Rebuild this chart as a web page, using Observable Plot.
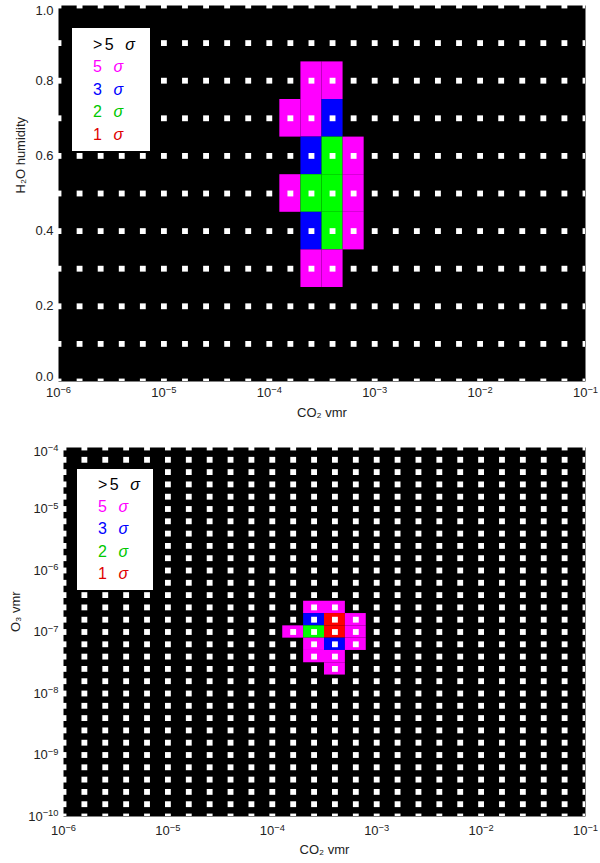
<!DOCTYPE html>
<html>
<head>
<meta charset="utf-8">
<script src="https://cdn.jsdelivr.net/npm/d3@7"></script>
<script src="https://cdn.jsdelivr.net/npm/@observablehq/plot@0.6"></script>
<style>
  html, body { margin: 0; padding: 0; background: white; }
  #wrap { position: relative; width: 600px; height: 863px; overflow: hidden; }
  #wrap svg { display: block; }
  .legend { position: absolute; background: white; font-family: "Liberation Sans", Arial, sans-serif; font-size: 16px; box-sizing: border-box; }
  .legend div { white-space: nowrap; }
  .legend .num { letter-spacing: 2.5px; }
  .legend .sig { margin-left: 9px; font-style: italic; }
</style>
</head>
<body>
<div id="wrap"></div>
<script>
// ---- axis ticks ----
const xTickExps = [-6, -5, -4, -3, -2, -1];
const topYTicks = [0.0, 0.2, 0.4, 0.6, 0.8, 1.0];
const botYTickExps = [-10, -9, -8, -7, -6, -5, -4];

// ---- model grid (log10 CO2 vmr, H2O humidity, log10 O3 vmr) ----
const gridCO2Exp = [-6.0, -5.8, -5.6, -5.4, -5.2, -5.0, -4.8, -4.6, -4.4, -4.2, -4.0, -3.8, -3.6, -3.4, -3.2, -3.0, -2.8, -2.6, -2.4, -2.2, -2.0, -1.8, -1.6, -1.4, -1.2, -1.0];
const gridH2O = [0.0, 0.1, 0.2, 0.3, 0.4, 0.5, 0.6, 0.7, 0.8, 0.9, 1.0];
const gridO3Exp = [-10.0, -9.8, -9.6, -9.4, -9.2, -9.0, -8.8, -8.6, -8.4, -8.2, -8.0, -7.8, -7.6, -7.4, -7.2, -7.0, -6.8, -6.6, -6.4, -6.2, -6.0, -5.8, -5.6, -5.4, -5.2, -5.0, -4.8, -4.6, -4.4, -4.2, -4.0];

// ---- top panel: sigma levels of cells (CO2 vs H2O) ----
const topCO2Exp = [-3.6, -3.4, -3.8, -3.6, -3.4, -3.6, -3.4, -3.2, -3.8, -3.6, -3.4, -3.2, -3.6, -3.4, -3.2, -3.6, -3.4];
const topH2O    = [ 0.8,  0.8,  0.7,  0.7,  0.7,  0.6,  0.6,  0.6,  0.5,  0.5,  0.5,  0.5,  0.4,  0.4,  0.4,  0.3,  0.3];
const topSigma  = ["5",  "5",  "5",  "5",  "3",  "3",  "2",  "5",  "5",  "2",  "2",  "5",  "3",  "2",  "5",  "5",  "5"];

// ---- bottom panel: sigma levels of cells (CO2 vs O3) ----
const botCO2Exp = [-3.6, -3.4, -3.6, -3.4, -3.2, -3.8, -3.6, -3.4, -3.2, -3.6, -3.4, -3.2, -3.6, -3.4, -3.4];
const botO3Exp  = [-6.6, -6.6, -6.8, -6.8, -6.8, -7.0, -7.0, -7.0, -7.0, -7.2, -7.2, -7.2, -7.4, -7.4, -7.6];
const botSigma  = ["5",  "5",  "3",  "1",  "5",  "5",  "2",  "1",  "5",  "5",  "3",  "5",  "5",  "5",  "5"];

// ---- legend ----
const legendLabels = [">5", "5", "3", "2", "1"];
const sigmaDomain = ["1", "2", "3", "5"];
const sigmaColors = ["#ff0000", "#00ff00", "#0000ff", "#ff00ff"];
const legendColors = ["#000000", "#ff00ff", "#0000ff", "#00c800", "#e00000"];

const powLabel = v => "10^" + Math.round(Math.log10(v));

const baseStyle = {fontFamily: "'Liberation Sans', Arial, sans-serif", fontSize: "13px", color: "#222", background: "white", overflow: "visible"};
const half = 0.1; // half grid step in decades

const topCells = topCO2Exp.map((e, i) => ({x1: 10 ** (e - half), x2: 10 ** (e + half), y1: topH2O[i] - 0.05, y2: topH2O[i] + 0.05, sigma: topSigma[i]}));
const botCells = botCO2Exp.map((e, i) => ({x1: 10 ** (e - half), x2: 10 ** (e + half), y1: 10 ** (botO3Exp[i] - half), y2: 10 ** (botO3Exp[i] + half), sigma: botSigma[i]}));
const topGrid = d3.cross(gridCO2Exp, gridH2O).map(([e, h]) => ({x: 10 ** e, y: h}));
const botGrid = d3.cross(gridCO2Exp, gridO3Exp).map(([e, o]) => ({x: 10 ** e, y: 10 ** o}));

const xTicks = xTickExps.map(e => 10 ** e);
const botYTicks = botYTickExps.map(e => 10 ** e);
const yAxisOpts = {tickSize: 0, tickPadding: 5, label: null};

const topChart = Plot.plot({
  width: 600, height: 425,
  marginLeft: 58, marginRight: 15, marginTop: 5, marginBottom: 44,
  style: baseStyle,
  x: {type: "log", domain: [1e-6, 1e-1], ticks: xTicks, tickFormat: powLabel, tickSize: 0, tickPadding: 6, label: null},
  y: {domain: [0, 1], axis: null},
  color: {domain: sigmaDomain, range: sigmaColors},
  marks: [
    Plot.frame({fill: "black"}),
    Plot.rect(topCells, {x1: "x1", x2: "x2", y1: "y1", y2: "y2", fill: "sigma"}),
    Plot.dot(topGrid, {x: "x", y: "y", symbol: "square", r: 3.3, fill: "white", stroke: null, clip: true}),
    Plot.axisY(topYTicks.slice(1, -1), {...yAxisOpts, tickFormat: d => d.toFixed(1)}),
    Plot.axisY(topYTicks.slice(-1), {...yAxisOpts, tickFormat: d => d.toFixed(1), dy: 5}),
    Plot.axisY(topYTicks.slice(0, 1), {...yAxisOpts, tickFormat: d => d.toFixed(1), dy: -5}),
    Plot.text(["CO\u2082 vmr"], {text: d => d, frameAnchor: "bottom", dy: 35, fontSize: 13, fill: "#222"}),
    Plot.text(["H\u2082O humidity"], {text: d => d, frameAnchor: "left", dx: -38, rotate: -90, fontSize: 13, fill: "#222"})
  ]
});

const bottomChart = Plot.plot({
  width: 600, height: 438,
  marginLeft: 63, marginRight: 15, marginTop: 22, marginBottom: 47,
  style: baseStyle,
  x: {type: "log", domain: [1e-6, 1e-1], ticks: xTicks, tickFormat: powLabel, tickSize: 0, tickPadding: 9, label: null},
  y: {type: "log", domain: [1e-10, 1e-4], axis: null},
  color: {domain: sigmaDomain, range: sigmaColors},
  marks: [
    Plot.frame({fill: "black"}),
    Plot.rect(botCells, {x1: "x1", x2: "x2", y1: "y1", y2: "y2", fill: "sigma"}),
    Plot.dot(botGrid, {x: "x", y: "y", symbol: "square", r: 3.3, fill: "white", stroke: null, clip: true}),
    Plot.axisY(botYTicks.slice(0, -1), {...yAxisOpts, tickFormat: powLabel}),
    Plot.axisY(botYTicks.slice(-1), {...yAxisOpts, tickFormat: powLabel, dy: 4}),
    Plot.text(["CO\u2082 vmr"], {text: d => d, frameAnchor: "bottom", dy: 37, fontSize: 13, fill: "#222"}),
    Plot.text(["O\u2083 vmr"], {text: d => d, frameAnchor: "left", dx: -48, rotate: -90, fontSize: 13, fill: "#222"})
  ]
});

// render "10^n" tick labels with a real superscript
function superscriptTicks(svg) {
  svg.querySelectorAll("text").forEach(t => {
    const m = /^10\^(-?\d+)$/.exec(t.textContent);
    if (!m) return;
    t.textContent = "";
    const base = document.createElementNS("http://www.w3.org/2000/svg", "tspan");
    base.textContent = "10";
    const ex = document.createElementNS("http://www.w3.org/2000/svg", "tspan");
    ex.textContent = m[1].replace("-", "\u2212");
    ex.setAttribute("dy", "-0.45em");
    ex.setAttribute("font-size", "72%");
    t.appendChild(base); t.appendChild(ex);
  });
}
superscriptTicks(topChart);
superscriptTicks(bottomChart);

const wrap = document.getElementById("wrap");
wrap.appendChild(topChart);
wrap.appendChild(bottomChart);

function addLegend(left, topPx, width, height, padTop, lineH) {
  const box = document.createElement("div");
  box.className = "legend";
  Object.assign(box.style, {left: left + "px", top: topPx + "px", width: width + "px", height: height + "px", paddingTop: padTop + "px", paddingLeft: "21px", lineHeight: lineH + "px"});
  legendLabels.forEach((lab, i) => {
    const row = document.createElement("div");
    row.style.color = legendColors[i];
    const n = document.createElement("span"); n.className = "num"; n.textContent = lab;
    const s = document.createElement("span"); s.className = "sig"; s.textContent = "\u03C3";
    row.appendChild(n); row.appendChild(s);
    box.appendChild(row);
  });
  wrap.appendChild(box);
}
addLegend(72, 28, 78, 123, 5.75, 22.5);
addLegend(77, 469, 76, 121, 4.8, 22.3);
</script>
</body>
</html>
